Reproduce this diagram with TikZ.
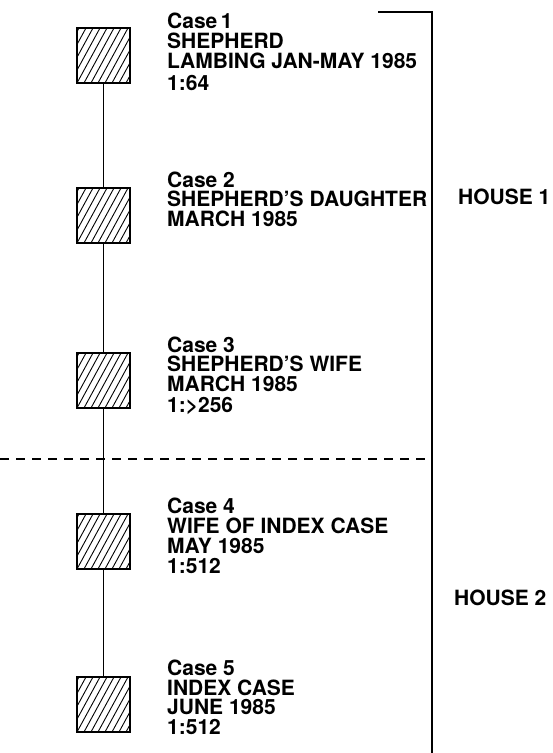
\documentclass[tikz,border=0pt]{standalone}
\usepackage{fontspec}
\setmainfont{TeX Gyre Heros}
\begin{document}
\begin{tikzpicture}[x=1pt,y=-1pt,
  casebox/.style={draw,line width=1.7pt,minimum width=53pt,minimum height=55pt,inner sep=0pt,
    path picture={\foreach \k in {-6,...,8}{\draw[line width=0.9pt] ([xshift=\k*7pt]path picture bounding box.south west) -- ++(30pt,55pt);}}},
  txt/.style={anchor=base west,inner sep=0pt,text height=14pt,text depth=0pt,font=\fontsize{21}{20}\selectfont\bfseries},
  link/.style={line width=1.3pt},
  bracket/.style={line width=1.4pt},
  sep/.style={line width=1.6pt,dash pattern=on 9pt off 7pt}]
\useasboundingbox (0,0) rectangle (553,753);
% boxes
\node[casebox] (b1) at (103.5,55.5) {};
\node[casebox] (b2) at (103.5,215.5) {};
\node[casebox] (b3) at (103.5,380.5) {};
\node[casebox] (b4) at (103.5,541.5) {};
\node[casebox] (b5) at (103.5,704.5) {};
\draw[link] (b1.south) -- (b2.north);
\draw[link] (b2.south) -- (b3.north);
\draw[link] (b3.south) -- (b4.north);
\draw[link] (b4.south) -- (b5.north);
% texts
\node[txt] (c1a) at (167,28) {Case\,1};
\node[txt] (c1b) at (167,48) {SHEPHERD};
\node[txt] (c1c) at (167,68) {LAMBING JAN-MAY 1985};
\node[txt] (c1d) at (167,90) {1:64};
\node[txt] (c2a) at (167,187) {Case 2};
\node[txt] (c2b) at (167,206.5) {SHEPHERD’S DAUGHTER};
\node[txt] (c2c) at (167,226) {MARCH 1985};
\node[txt] (c3a) at (167,352) {Case 3};
\node[txt] (c3b) at (167,371.5) {SHEPHERD’S WIFE};
\node[txt] (c3c) at (167,391) {MARCH 1985};
\node[txt] (c3d) at (167,412) {1:>256};
\node[txt] (c4a) at (167,513) {Case 4};
\node[txt] (c4b) at (167,533) {WIFE OF INDEX CASE};
\node[txt] (c4c) at (167,553) {MAY 1985};
\node[txt] (c4d) at (167,573) {1:512};
\node[txt] (c5a) at (167,675) {Case 5};
\node[txt] (c5b) at (167,695) {INDEX CASE};
\node[txt] (c5c) at (167,714.5) {JUNE 1985};
\node[txt] (c5d) at (167,734) {1:512};
\node[txt] (h1) at (458,204) {HOUSE 1};
\node[txt] (h2) at (454,605) {HOUSE 2};
% bracket and separator
\coordinate (t0) at (378,12);
\coordinate (t1) at (432,12);
\coordinate (t2) at (432,753);
\draw[bracket] (t0) -- (t1) -- (t2);
\coordinate (d0) at (0,459);
\coordinate (d1) at (432,459);
\draw[sep] (d0) -- (d1);
\end{tikzpicture}
\end{document}
